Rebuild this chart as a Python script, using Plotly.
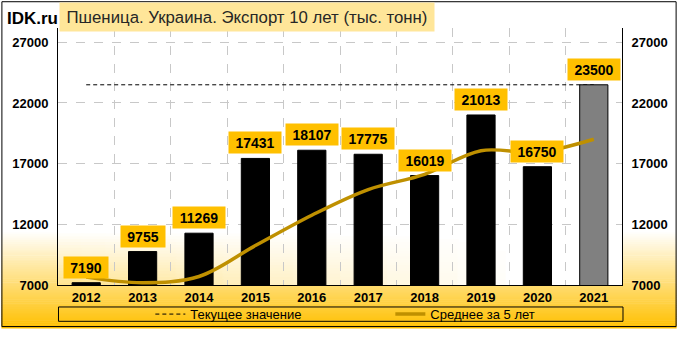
import plotly.graph_objects as go

# ---------------- data ----------------
years = ["2012", "2013", "2014", "2015", "2016", "2017", "2018", "2019", "2020", "2021"]
export_values = [7190, 9755, 11269, 17431, 18107, 17775, 16019, 21013, 16750, 23500]
avg5_values = [7650, 7190, 7700, 10250, 12750, 14867, 16120, 18069, 17933, 19011]
current_value = 23500
y_ticks = [7000, 12000, 17000, 22000, 27000]
y_range = [7000, 28180]

title_text = "Пшеница. Украина. Экспорт 10 лет (тыс. тонн)"
legend_current = "Текущее значение"
legend_avg = "Среднее за 5 лет"

# ---------------- layout geometry ----------------
W, H = 680, 341
L, R, T, B = 57, 55, 28, 44
pw, ph = W - L - R, H - T - B


def px(x):
    return (x - L) / pw


def py(y):
    return (H - B - y) / ph


def lerp(c1, c2, t):
    t = max(0.0, min(1.0, t))
    return "rgb(%d,%d,%d)" % tuple(round(a + (b - a) * t) for a, b in zip(c1, c2))


WHITE = (255, 255, 255)
GOLD = (255, 192, 0)

idx = list(range(len(years)))
bar_colors = ["#000000"] * (len(years) - 1) + ["#808080"]

fig = go.Figure()

fig.add_trace(go.Scatter(
    x=idx, y=[current_value] * len(idx), mode="lines", name=legend_current,
    line=dict(color="black", width=1, dash="4px,3px"),
    xaxis="x", yaxis="y", hoverinfo="skip",
))
fig.add_trace(go.Bar(
    x=idx, y=export_values, width=0.5, showlegend=False,
    marker=dict(color=bar_colors, line=dict(color="black", width=1)),
    xaxis="x2", yaxis="y2",
))
fig.add_trace(go.Scatter(
    x=idx, y=avg5_values, mode="lines", name=legend_avg,
    line=dict(color="#BF9000", width=3.5, shape="spline", smoothing=1.0),
    xaxis="x2", yaxis="y2",
))

# ---------------- background gradient shapes ----------------
shapes = []
step = 2
for y in range(236, H, step):
    t = (y - 240) / (H - 240)
    shapes.append(dict(type="rect", xref="paper", yref="paper",
                       x0=px(0), x1=px(W), y0=py(y + step + 0.5), y1=py(y),
                       fillcolor=lerp(WHITE, GOLD, t), line=dict(width=0), layer="below"))
# plot-area: white with diagonal fading gold at bottom-left
shapes.append(dict(type="rect", xref="paper", yref="paper", x0=0, x1=1, y0=0, y1=1,
                   fillcolor="white", line=dict(width=0), layer="below"))
nx, cell_h = 24, 3
for j, y in enumerate(range(240, H - B, cell_h)):
    ty = (y - 240) / (H - B - 240)
    for i in range(nx):
        xf = i / nx
        t = ty * 0.45 * max(0.0, 1 - xf * 1.25)
        if t <= 0.01:
            continue
        shapes.append(dict(type="rect", xref="paper", yref="paper",
                           x0=i / nx, x1=(i + 1) / nx + 0.002,
                           y0=py(min(y + cell_h + 0.5, H - B)), y1=py(y),
                           fillcolor=lerp(WHITE, GOLD, t), line=dict(width=0), layer="below"))
# legend box
shapes.append(dict(type="rect", xref="paper", yref="paper",
                   x0=px(57.5), x1=px(626), y0=py(335), y1=py(320),
                   line=dict(color="black", width=1), fillcolor="rgba(0,0,0,0)", layer="above"))
# outer border
shapes.append(dict(type="rect", xref="paper", yref="paper",
                   x0=px(0.5), x1=px(W - 0.5), y0=py(H - 0.5), y1=py(0.5),
                   line=dict(color="black", width=1), fillcolor="rgba(0,0,0,0)", layer="above"))

# ---------------- annotations ----------------
annotations = [
    dict(text="IDK.ru", xref="paper", yref="paper", x=px(4), y=py(18),
         xanchor="left", yanchor="middle", showarrow=False,
         font=dict(family="Liberation Sans, Arial", size=17, color="black", weight="bold")),
    dict(text=title_text, xref="paper", yref="paper", x=px(58), y=py(16),
         xanchor="left", yanchor="middle", showarrow=False, align="center",
         width=372, height=26, bgcolor="#FFE699",
         font=dict(family="Liberation Sans, Arial", size=16.8, color="#262626")),
]
for i, v in zip(idx, export_values):
    s = str(v)
    annotations.append(dict(
        text=s, x=i, y=v, xref="x", yref="y", xanchor="center", yanchor="bottom",
        yshift=4, showarrow=False, bgcolor="#FFC000", width=len(s) * 8 + 10, height=19,
        font=dict(family="Liberation Sans, Arial", size=14, color="black", weight="bold"),
    ))

tick_font = dict(family="Liberation Sans, Arial", size=13, color="black", weight="bold")

fig.update_layout(
    width=W, height=H,
    margin=dict(l=L, r=R, t=T, b=B, pad=0),
    paper_bgcolor="white", plot_bgcolor="rgba(0,0,0,0)",
    shapes=shapes, annotations=annotations,
    showlegend=True,
    legend=dict(orientation="h", x=px(150), y=py(327.5), xanchor="left", yanchor="middle",
                bgcolor="rgba(0,0,0,0)", borderwidth=0, entrywidth=195,
                font=dict(family="Liberation Sans, Arial", size=13, color="black")),
    xaxis=dict(range=[-0.5, len(years) - 0.5], tickvals=idx, ticktext=years,
               showgrid=False, zeroline=False, showline=True, linecolor="black", linewidth=1,
               ticks="", tickfont=tick_font,
               minor=dict(tickvals=[i + 0.5 for i in idx[:-1]], showgrid=True,
                          gridcolor="#C8C8C8", griddash="dash", gridwidth=1)),
    yaxis=dict(range=y_range, tickvals=y_ticks, tickformat="d", showgrid=True, gridcolor="#C8C8C8",
               griddash="dash", gridwidth=1, zeroline=False, showline=True,
               linecolor="black", linewidth=1, ticks="", tickfont=tick_font,
               ticklabelstandoff=6),
    xaxis2=dict(range=[-0.5, len(years) - 0.5], overlaying="x", visible=False),
    yaxis2=dict(range=y_range, overlaying="y", side="right", tickvals=y_ticks, tickformat="d",
                showgrid=False, zeroline=False, showline=True, linecolor="black",
                linewidth=1, ticks="", tickfont=tick_font, ticklabelstandoff=6),
    bargap=0.5,
)

fig.write_html("out.html")
